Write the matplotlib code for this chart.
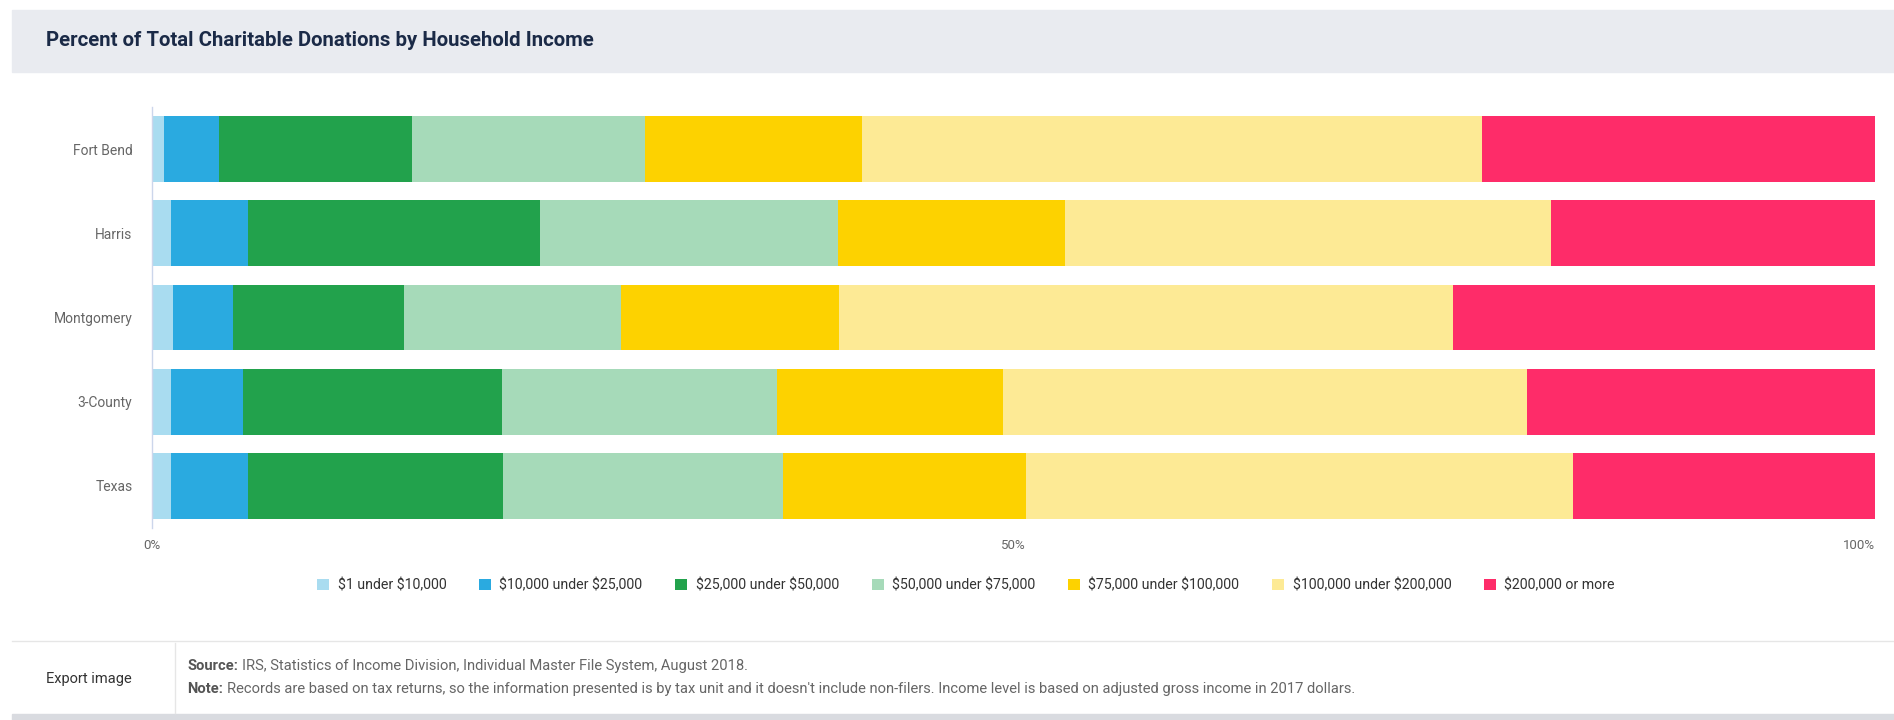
"""
Percent of total charitable donations by household income (stacked 100% bars)
"""

import matplotlib.pyplot as plt
from matplotlib.patches import Rectangle
from matplotlib.lines import Line2D

plt.rcParams["font.family"] = ["Roboto", "DejaVu Sans"]

# -----------------------------
# Data (percent of total)
# -----------------------------
regions = ["Fort Bend", "Harris", "Montgomery", "3-County", "Texas"]

income_bands = [
    "$1 under $10,000",
    "$10,000 under $25,000",
    "$25,000 under $50,000",
    "$50,000 under $75,000",
    "$75,000 under $100,000",
    "$100,000 under $200,000",
    "$200,000 or more",
]

under_10k = [0.7, 1.1, 1.2, 1.1, 1.1]
from_10k_25k = [3.2, 4.5, 3.5, 4.2, 4.5]
from_25k_50k = [11.2, 16.9, 9.9, 15.0, 14.8]
from_50k_75k = [13.5, 17.3, 12.6, 16.0, 16.2]
from_75k_100k = [12.6, 13.2, 12.7, 13.1, 14.1]
from_100k_200k = [36.0, 28.2, 35.6, 30.4, 31.8]
over_200k = [22.8, 18.8, 24.5, 20.2, 17.5]

series = [under_10k, from_10k_25k, from_25k_50k, from_50k_75k,
          from_75k_100k, from_100k_200k, over_200k]

colors = ["#a9dcf0", "#2aaae0", "#22a24c", "#a6dab9",
          "#fdd200", "#fdea95", "#fe2c69"]

x_ticks = [0, 50, 100]
x_tick_labels = ["0%", "50%", "100%"]

source_text = "IRS, Statistics of Income Division, Individual Master File System, August 2018."
note_text = ("Records are based on tax returns, so the information presented is by tax unit "
             "and it doesn't include non-filers. Income level is based on adjusted gross "
             "income in 2017 dollars.")

# -----------------------------
# Figure / card layout
# -----------------------------
fig = plt.figure(figsize=(18.94, 7.2), dpi=100)
W, H = 1894, 720

def fx(px):
    return px / W

def fy(py):
    return 1 - py / H

# header band
fig.patches.append(Rectangle((fx(12), fy(72)), fx(1894 - 12), 62 / H,
                             transform=fig.transFigure, color="#e9ebf0",
                             zorder=0))
fig.text(fx(46), fy(40), "Percent of Total Charitable Donations by Household Income",
         fontsize=14.7, fontweight="bold", color="#1b2a47", va="center")

# -----------------------------
# Bars
# -----------------------------
ax = fig.add_axes([fx(152), fy(528), fx(1875 - 152), (528 - 107) / H])

left = [0] * len(regions)
for vals, color, label in zip(series, colors, income_bands):
    ax.barh(regions, vals, left=left, height=0.78, color=color,
            label=label.replace("$", r"\$"), linewidth=0)
    left = [a + b for a, b in zip(left, vals)]

ax.set_xlim(0, 100)
ax.set_ylim(4.5, -0.5)

for side in ["top", "right", "bottom"]:
    ax.spines[side].set_visible(False)
ax.spines["left"].set_color("#ccd6eb")
ax.spines["left"].set_linewidth(1)

ax.set_xticks(x_ticks)
ax.set_xticklabels(x_tick_labels)
ax.tick_params(axis="x", length=0, pad=8, labelsize=9.5, labelcolor="#666666")
ax.tick_params(axis="y", length=0, pad=14, labelsize=10, labelcolor="#666666")
ax.get_xticklabels()[-1].set_ha("right")

# -----------------------------
# Legend
# -----------------------------
handles, labels = ax.get_legend_handles_labels()
fig.legend(handles, labels, loc="center", bbox_to_anchor=(fx(966), fy(585)),
           ncol=7, frameon=False, fontsize=10.2, handlelength=0.85,
           handleheight=0.85, handletextpad=0.6, columnspacing=2.3,
           labelcolor="#333333")

# -----------------------------
# Footer
# -----------------------------
fig.add_artist(Line2D([fx(12), 1], [fy(641), fy(641)], color="#e6e6e6", lw=1))
fig.add_artist(Line2D([fx(175), fx(175)], [fy(643), fy(713)], color="#e6e6e6", lw=1))
fig.patches.append(Rectangle((fx(12), 0), fx(1894 - 12), 6 / H,
                             transform=fig.transFigure, color="#d9dbe0"))

fig.text(fx(46), fy(679), "Export image", fontsize=10.5, color="#333333", va="center")

src = fig.text(fx(187), fy(670), "Source:", fontsize=10.6, fontweight="bold",
               color="#555555", va="baseline")
note = fig.text(fx(187), fy(693), "Note:", fontsize=10.6, fontweight="bold",
                color="#555555", va="baseline")

# put the plain text right after the bold lead-in, on the same baseline
fig.canvas.draw()
renderer = fig.canvas.get_renderer()
for lead, body, y in [(src, source_text, 670), (note, note_text, 693)]:
    x_end = lead.get_window_extent(renderer).x1
    fig.text(x_end / W + fx(4), fy(y), body, fontsize=10.6, color="#666666",
             va="baseline")

fig.savefig("out.png", dpi=100)
